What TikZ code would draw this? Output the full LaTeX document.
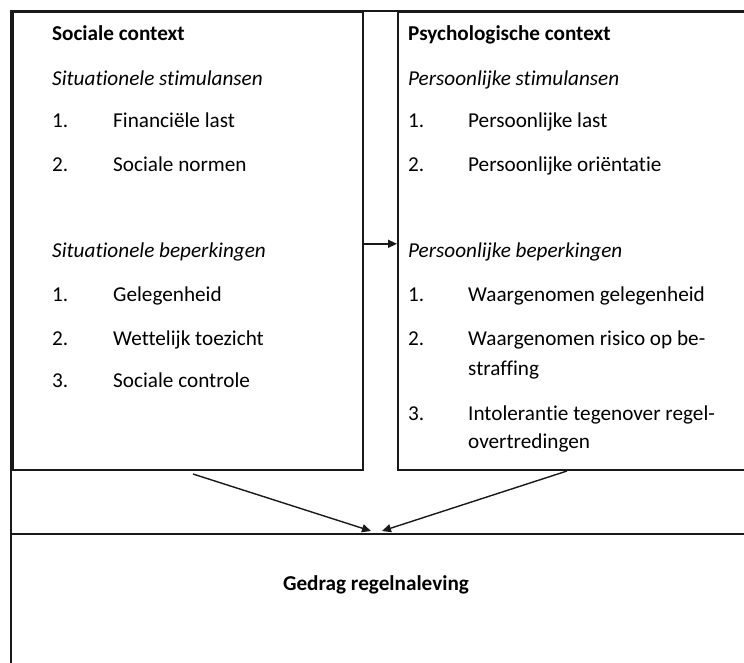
\documentclass[tikz,border=0pt]{standalone}
\usepackage{fontspec}
\setmainfont{Carlito}[Ligatures=NoCommon]
\usetikzlibrary{arrows.meta,calc}
\begin{document}
\begin{tikzpicture}[x=1pt,y=-1pt,
  frame/.style={draw=black!90,line width=1.6pt},
  box/.style={frame,rectangle,inner sep=0pt,anchor=north west},
  txt/.style={anchor=west,inner sep=0pt,font=\fontsize{21.2}{25}\selectfont,text height=15pt,text depth=4pt},
  hd/.style={txt,font=\fontsize{21.2}{25}\selectfont\bfseries},
  sub/.style={txt,font=\fontsize{21.2}{25}\selectfont\itshape},
  conn/.style={draw=black!90,line width=1.4pt,-{Triangle[length=9pt,width=8pt]}}]
\useasboundingbox (0,0) rectangle (744,662);
\fill[white] (0,0) rectangle (744,662);
% boxes
\node[box,minimum width=790pt,minimum height=690pt] (frame) at (10,10) {};
\node[box,minimum width=350pt,minimum height=458pt] (soc) at (12,11) {};
\node[box,minimum width=400pt,minimum height=458pt] (psy) at (397,11) {};
\node[box,minimum width=790pt,minimum height=200pt] (ged) at (10,533) {};
% left texts
\node[hd]  (s0) at (52,35) {Sociale context};
\node[sub] (s1) at (52,80) {Situationele stimulansen};
\node[txt] (s2n) at (52,122) {1.};
\node[txt] (s2) at (113,122) {Financiële last};
\node[txt] (s3n) at (52,166) {2.};
\node[txt] (s3) at (113,166) {Sociale normen};
\node[sub] (s4) at (52,252) {Situationele beperkingen};
\node[txt] (s5n) at (52,296) {1.};
\node[txt] (s5) at (113,296) {Gelegenheid};
\node[txt] (s6n) at (52,340) {2.};
\node[txt] (s6) at (113,340) {Wettelijk toezicht};
\node[txt] (s7n) at (52,382) {3.};
\node[txt] (s7) at (113,382) {Sociale controle};
% right texts
\node[hd]  (p0) at (408,35) {Psychologische context};
\node[sub] (p1) at (408,80) {Persoonlijke stimulansen};
\node[txt] (p2n) at (408,122) {1.};
\node[txt] (p2) at (468,122) {Persoonlijke last};
\node[txt] (p3n) at (408,166) {2.};
\node[txt] (p3) at (468,166) {Persoonlijke oriëntatie};
\node[sub] (p4) at (408,252) {Persoonlijke beperkingen};
\node[txt] (p5n) at (408,296) {1.};
\node[txt] (p5) at (468,296) {Waargenomen gelegenheid};
\node[txt] (p6n) at (408,340) {2.};
\node[txt] (p6) at (468,340) {Waargenomen risico op be-};
\node[txt] (p6b) at (468,370) {straffing};
\node[txt] (p7n) at (408,415) {3.};
\node[txt] (p7) at (468,415) {Intolerantie tegenover regel-};
\node[txt] (p7b) at (468,443) {overtredingen};
% bottom text
\node[hd,anchor=center] (gt) at (376,585) {Gedrag regelnaleving};
% connectors
\coordinate (a1) at (193,474);
\coordinate (b1) at (371,531);
\coordinate (a2) at (567,471);
\coordinate (b2) at (382,531);
\draw[conn] ($(soc.east)+(0,3)$) -- ($(psy.west)+(0,3)$);
\draw[conn] (a1) -- (b1);
\draw[conn] (a2) -- (b2);
\end{tikzpicture}
\end{document}
